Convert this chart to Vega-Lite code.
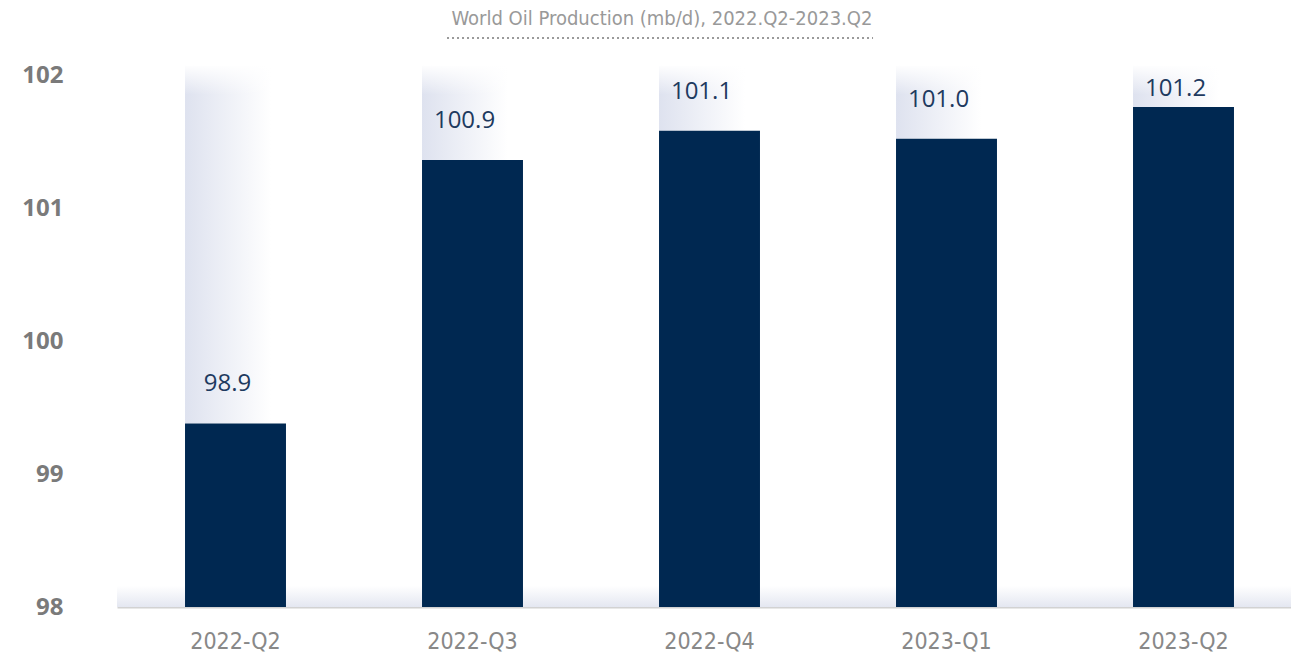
{
  "$schema": "https://vega.github.io/schema/vega-lite/v6.json",
  "width": 1185,
  "height": 532,
  "autosize": {"type": "none"},
  "padding": {"left": 117, "top": 75, "right": 0, "bottom": 51},
  "background": "white",
  "title": {
    "text": "World Oil Production (mb/d), 2022.Q2-2023.Q2",
    "font": "DejaVu Sans Condensed, sans-serif",
    "fontSize": 20,
    "fontWeight": "normal",
    "color": "#999999",
    "anchor": "middle",
    "frame": "bounds",
    "offset": 8
  },
  "datasets": {
    "prod": [
      {"quarter": "2022-Q2", "value": 99.38, "label": "98.9"},
      {"quarter": "2022-Q3", "value": 101.36, "label": "100.9"},
      {"quarter": "2022-Q4", "value": 101.58, "label": "101.1"},
      {"quarter": "2023-Q1", "value": 101.52, "label": "101.0"},
      {"quarter": "2023-Q2", "value": 101.76, "label": "101.2"}
    ],
    "underline": [{"start": 0.2785, "end": 0.638}]
  },
  "resolve": {"scale": {"x": "independent", "y": "independent"}, "axis": {"x": "independent", "y": "independent"}},
  "layer": [
    {
      "data": {"name": "prod"},
      "layer": [
        {
          "mark": {"type": "rect", "fill": {"gradient": "linear", "x1": 0, "y1": 0, "x2": 0, "y2": 1, "stops": [{"offset": 0, "color": "#ffffff"}, {"offset": 1, "color": "#e4e7f1"}]}},
          "encoding": {
            "y": {"datum": 98.16, "type": "quantitative"},
            "y2": {"datum": 98}
          }
        },
        {
          "mark": {"type": "bar", "fill": {"gradient": "linear", "x1": 0, "y1": 0, "x2": 1, "y2": 0, "stops": [{"offset": 0, "color": "#dee2ef"}, {"offset": 0.85, "color": "#ffffff"}]}},
          "encoding": {
            "x": {"field": "quarter", "type": "nominal", "sort": null},
            "y": {"field": "value", "type": "quantitative"},
            "y2": {"datum": 102.07}
          }
        },
        {
          "mark": {"type": "bar", "fill": {"gradient": "linear", "x1": 0, "y1": 0, "x2": 0, "y2": 1, "stops": [{"offset": 0, "color": "rgba(255,255,255,1)"}, {"offset": 1, "color": "rgba(255,255,255,0)"}]}},
          "encoding": {
            "x": {"field": "quarter", "type": "nominal", "sort": null},
            "y": {"datum": 101.85, "type": "quantitative"},
            "y2": {"datum": 102.08}
          }
        },
        {
          "mark": {"type": "bar", "color": "#002851"},
          "encoding": {
            "x": {
              "field": "quarter", "type": "nominal", "sort": null,
              "scale": {"paddingInner": 0.574, "paddingOuter": 0.287},
              "axis": {
                "title": null, "labelAngle": 0, "labelAlign": "center", "ticks": false,
                "domainColor": "#d2d2d2", "domainWidth": 2,
                "labelFont": "DejaVu Sans Condensed, sans-serif",
                "labelFontSize": 23, "labelColor": "#888888", "labelPadding": 34
              }
            },
            "y": {
              "field": "value", "type": "quantitative",
              "scale": {"domain": [98, 102], "nice": false, "zero": false},
              "axis": {
                "title": null, "values": [98, 99, 100, 101, 102], "format": "d", "grid": false,
                "ticks": false, "domain": false, "labelPadding": 54,
                "labelFont": "Open Sans, sans-serif", "labelFontWeight": "bold",
                "labelFontSize": 24, "labelColor": "#7a7a7a"
              }
            },
            "y2": {"datum": 98}
          }
        }
      ]
    },
    {
      "data": {"name": "prod"},
      "mark": {"type": "text", "align": "center", "baseline": "alphabetic", "dx": -8, "font": "Open Sans, sans-serif", "fontSize": 24, "color": "#1e3a5f"},
      "encoding": {
        "x": {"field": "quarter", "type": "nominal", "sort": null, "scale": {"paddingInner": 0.574, "paddingOuter": 0.287}, "axis": null},
        "y": {"field": "value", "type": "quantitative", "scale": {"domain": [98, 101.6], "range": [500, 21.2], "clamp": true, "nice": false, "zero": false}, "axis": null},
        "text": {"field": "label"}
      }
    },
    {
      "data": {"name": "underline"},
      "mark": {"type": "rule", "stroke": "#9a9a9a", "strokeWidth": 2, "strokeDash": [2, 3]},
      "encoding": {
        "x": {"field": "start", "type": "quantitative", "scale": {"domain": [0, 1], "nice": false, "zero": false}, "axis": null},
        "x2": {"field": "end"},
        "y": {"datum": 102.278, "type": "quantitative", "scale": {"domain": [98, 102], "nice": false, "zero": false}, "axis": null}
      }
    }
  ],
  "config": {"view": {"stroke": null}}
}
